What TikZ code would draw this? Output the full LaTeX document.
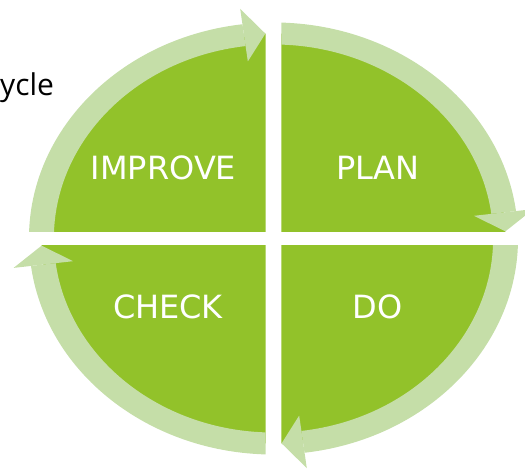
\documentclass[tikz,border=0pt]{standalone}
\usepackage{fontspec}
\setmainfont{Open Sans}
\newfontfamily\stagefont{DejaVu Sans}
\definecolor{leaf}{RGB}{146,194,42}
\definecolor{pale}{RGB}{197,222,168}
\tikzset{stage/.style={text=white, font=\stagefont\fontsize{32}{38}\selectfont, inner sep=0pt, anchor=base}}

\begin{document}
\begin{tikzpicture}[x=1pt,y=1pt]
\clip (0,0) rectangle (525,472);

% title, cut at the left
\node[anchor=base west, inner sep=0pt, font=\fontsize{30}{36}\selectfont] (title) at (0,376) {ycle};

% four quarters, each with its arrow turning clockwise
\foreach \a in {0,90,180,270}
{
  \begin{scope}[shift={(273.5,233.5)}, xscale=1.132, rotate=-\a]
    \clip (-7,7) rectangle (-240,240);
    \fill[leaf] (0,0) circle (205);
    % ring
    \fill[pale] (185:216) arc[start angle=185, end angle=97.3, radius=216]
      -- (97.3:194) arc[start angle=97.3, end angle=185, radius=194] -- cycle;
    % arrow head
    \fill[pale] (97.3:231.5) -- (92:205) -- (97.3:178.5) -- cycle;
  \end{scope}
}

% labels
\node[stage] (improve) at (163.5,292) {IMPROVE};
\node[stage] (plan) at (378,292) {PLAN};
\node[stage] (check) at (168,154) {CHECK};
\node[stage] (do) at (377.5,154) {DO};

\end{tikzpicture}
\end{document}
